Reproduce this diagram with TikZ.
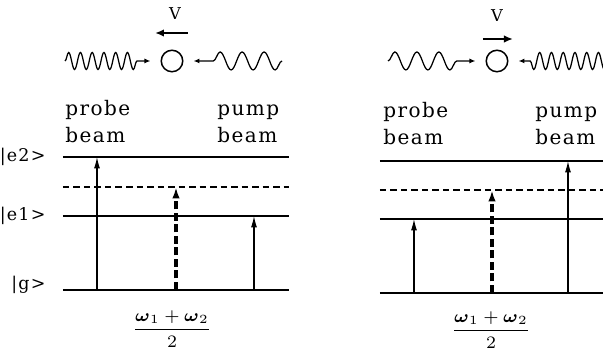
\documentclass[tikz,border=0pt]{standalone}
\usepackage{amsmath}
\usepackage{fontspec}
\setmainfont{DejaVu Serif}[LetterSpace=7]
\usetikzlibrary{
  positioning,
  arrows.meta,
  calc,
  decorations.pathmorphing
}
\tikzset{
  >=Latex,
  statelevel/.style={line width=0.7pt},
  virtuallevel/.style={line width=0.5pt,dash pattern=on 2.6pt off 1.6pt},
  transition/.style={-{Latex[length=4.6pt,width=2.4pt]},line width=0.45pt},
  twophoton/.style={-{Latex[length=4.6pt,width=3pt]},line width=1.3pt,dash pattern=on 3.2pt off 1.4pt},
  atom/.style={circle,draw,line width=0.6pt,minimum size=8.6pt,inner sep=0pt},
  wave/.style={decorate,line width=0.5pt,-{Latex[length=2.4pt,width=2pt]},shorten >=4pt},
  fastwave/.style={wave,decoration={snake,segment length=4.7pt,amplitude=3.4pt,post length=8pt}},
  slowwave/.style={wave,decoration={snake,segment length=8.8pt,amplitude=3.6pt,post length=8pt}},
  velocity/.style={-{Latex[length=3.6pt,width=3pt]},line width=0.9pt},
  beamlabel/.style={anchor=south west,align=left,inner sep=0pt,font=\fontsize{8}{10.8}\selectfont},
  statelabel/.style={anchor=east,inner sep=0pt,xshift=-6.8pt,font=\fontsize{7}{8}\selectfont},
  vlabel/.style={inner sep=0pt,font=\fontsize{6.5}{7}\selectfont},
  average/.style={anchor=base,inner sep=0pt,font=\fontsize{7}{8.4}\selectfont}
}

\begin{document}
\begin{tikzpicture}[x=0.4pt,y=-0.4pt]
    \useasboundingbox (0,0) rectangle (603,350);

    % Links: atoom beweegt naar de probe beam
    \node[atom] (atomL) at (172,61) {};
    \node[vlabel] (velL) at (175,14) {V};
    \coordinate (vfromL) at (188,33);
    \coordinate (vtoL) at (155,33);
    \draw[velocity] (vfromL) -- (vtoL);
    \coordinate (srcProbeL) at (65,61);
    \coordinate (srcPumpL) at (282,61);
    \draw[fastwave] (srcProbeL) -- (atomL);
    \draw[slowwave] (srcPumpL) -- (atomL);

    \node[beamlabel] (probeL) at (65,143) {probe\\beam};
    \node[beamlabel] (pumpL) at (217,143) {pump\\beam};

    % Niveaus links
    \coordinate (e2L) at (63,157);
    \coordinate (vL) at (63,187);
    \coordinate (e1L) at (63,216);
    \coordinate (gL) at (63,290);
    \foreach \a in {e2L,e1L,gL} \draw[statelevel] (\a) -- +(226,0);
    \draw[virtuallevel] (vL) -- +(226,0);
    \node[statelabel] (lblE2) at (e2L) {|e2>};
    \node[statelabel] (lblE1) at (e1L) {|e1>};
    \node[statelabel,yshift=2pt] (lblG) at (gL) {|g>};

    \draw[transition] ($(gL)+(34,0)$) -- ($(e2L)+(34,0)$);
    \draw[twophoton] ($(gL)+(113,0)$) -- ($(vL)+(113,0)$);
    \draw[transition] ($(gL)+(191,0)$) -- ($(e1L)+(191,0)$);
    \node[average] (avgL) at (172,334) {$\dfrac{\boldsymbol{\omega}_1+\boldsymbol{\omega}_2}{2}$};

    % Rechts: atoom beweegt naar de pump beam
    \node[atom] (atomR) at (497,61) {};
    \node[vlabel] (velR) at (497,16) {V};
    \coordinate (vfromR) at (483,39);
    \coordinate (vtoR) at (513,39);
    \draw[velocity] (vfromR) -- (vtoR);
    \coordinate (srcProbeR) at (388,61);
    \coordinate (srcPumpR) at (608,61);
    \draw[slowwave] (srcProbeR) -- (atomR);
    \draw[fastwave] (srcPumpR) -- (atomR);

    \node[beamlabel] (probeR) at (383,145) {probe\\beam};
    \node[beamlabel] (pumpR) at (535,145) {pump\\beam};

    % Niveaus rechts
    \coordinate (e2R) at (380,161);
    \coordinate (vR) at (380,190);
    \coordinate (e1R) at (380,219);
    \coordinate (gR) at (380,293);
    \foreach \a in {e2R,e1R,gR} \draw[statelevel] (\a) -- +(223,0);
    \draw[virtuallevel] (vR) -- +(223,0);

    \draw[transition] ($(gR)+(34,0)$) -- ($(e1R)+(34,0)$);
    \draw[twophoton] ($(gR)+(112,0)$) -- ($(vR)+(112,0)$);
    \draw[transition] ($(gR)+(188,0)$) -- ($(e2R)+(188,0)$);
    \node[average] (avgR) at (491,335) {$\dfrac{\boldsymbol{\omega}_1+\boldsymbol{\omega}_2}{2}$};
\end{tikzpicture}
\end{document}
